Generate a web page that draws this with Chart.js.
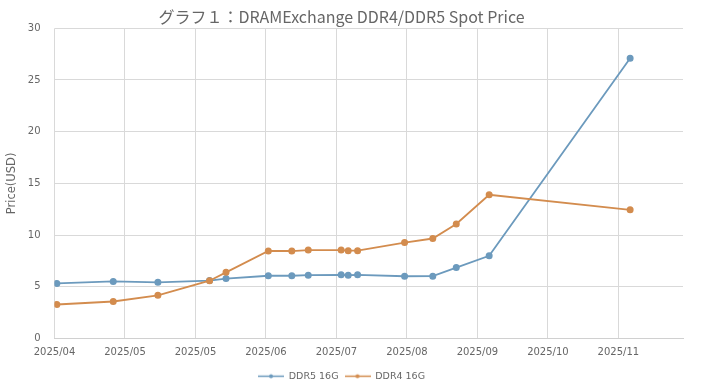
<!DOCTYPE html>
<html>
<head>
<meta charset="utf-8">
<script src="https://cdn.jsdelivr.net/npm/chart.js@4"></script>
<style>
  html, body { margin:0; padding:0; background:#fff; }
  #wrap { width:705px; height:391px; }
</style>
</head>
<body>
<div id="wrap"><canvas id="c" width="705" height="391"></canvas></div>
<script>
// data
const startDate = "2025-04-01";
const dates = ["2025-04-02","2025-04-26","2025-05-15","2025-06-06","2025-06-13","2025-07-01","2025-07-11","2025-07-18",
               "2025-08-01","2025-08-04","2025-08-08","2025-08-28","2025-09-09","2025-09-19","2025-10-03","2025-12-02"];
const ddr5 = [5.33,5.52,5.43,5.6,5.8,6.07,6.07,6.12,6.16,6.12,6.16,6.02,6.03,6.86,8.0,27.1];
const ddr4 = [3.29,3.58,4.18,5.59,6.4,8.46,8.46,8.55,8.55,8.49,8.49,9.28,9.67,11.07,13.9,12.44];
const tickLabels = ["2025/04","2025/05","2025/05","2025/06","2025/07","2025/08","2025/09","2025/10","2025/11"];
const seriesNames = ["DDR5 16G","DDR4 16G"];

const BLUE = "#6c9abd";
const ORANGE = "#d38c4e";
const TXT = "#666666";
const FONT = "'DejaVu Sans', sans-serif";

const dayOf = (s) => Math.round((Date.parse(s) - Date.parse(startDate)) / 86400000);
const toPts = (vals) => vals.map((v,i) => ({ x: dayOf(dates[i]), y: v }));

function legendMark(color){
  const cv = document.createElement("canvas");
  cv.width = 26; cv.height = 7;
  const g = cv.getContext("2d");
  g.strokeStyle = color; g.lineWidth = 1.5;
  g.beginPath(); g.moveTo(0,3.5); g.lineTo(26,3.5); g.stroke();
  g.fillStyle = color;
  g.beginPath(); g.arc(13,3.5,2,0,Math.PI*2); g.fill();
  return cv;
}
const marks = [legendMark(BLUE), legendMark(ORANGE)];

new Chart(document.getElementById("c"), {
  type: "line",
  data: {
    datasets: [
      { label: seriesNames[0], data: toPts(ddr5), borderColor: BLUE, backgroundColor: BLUE,
        borderWidth: 1.8, pointRadius: 2.6, pointHoverRadius: 2.6, tension: 0, order: 2 },
      { label: seriesNames[1], data: toPts(ddr4), borderColor: ORANGE, backgroundColor: ORANGE,
        borderWidth: 1.8, pointRadius: 2.6, pointHoverRadius: 2.6, tension: 0, order: 1 }
    ]
  },
  options: {
    responsive: false,
    animation: false,
    layout: { padding: { left: 0, right: 22, top: 0, bottom: 0 } },
    plugins: {
      title: {
        display: true,
        text: "グラフ１：DRAMExchange DDR4/DDR5 Spot Price",
        color: TXT,
        font: { family: "'Noto Sans CJK JP', 'Noto Sans', sans-serif", size: 16, weight: "normal", lineHeight: 1.05 },
        padding: { top: 8.5, bottom: 3 }
      },
      legend: {
        position: "bottom",
        labels: {
          usePointStyle: true,
          pointStyleWidth: 26,
          padding: 6,
          color: TXT,
          font: { family: FONT, size: 9.5 },
          generateLabels: (chart) => chart.data.datasets.map((ds,i) => ({
            text: ds.label, pointStyle: marks[i], fillStyle: ds.borderColor,
            strokeStyle: ds.borderColor, lineWidth: 0, hidden: false, datasetIndex: i, fontColor: TXT
          }))
        }
      },
      tooltip: { enabled: false }
    },
    scales: {
      x: {
        type: "linear",
        min: 0,
        max: 267.5,
        afterFit: (s) => { s.height = 27; },
        grid: { color: "#d9d9d9", drawTicks: false },
        border: { color: "#d0d0d0" },
        ticks: {
          stepSize: 30,
          includeBounds: false,
          padding: 8,
          maxRotation: 0,
          autoSkip: false,
          color: TXT,
          font: { family: FONT, size: 10 },
          callback: (v) => tickLabels[Math.round(v/30)] ?? ""
        }
      },
      y: {
        min: 0,
        max: 30,
        afterFit: (s) => { s.width = 54.5; },
        grid: { color: "#d9d9d9", drawTicks: false },
        border: { display: false },
        ticks: { stepSize: 5, padding: 14, color: TXT, font: { family: FONT, size: 10 } },
        title: {
          display: true,
          text: "Price(USD)",
          color: TXT,
          font: { family: FONT, size: 11.5 },
          padding: { top: 5, bottom: 0 }
        }
      }
    }
  }
});
</script>
</body>
</html>
